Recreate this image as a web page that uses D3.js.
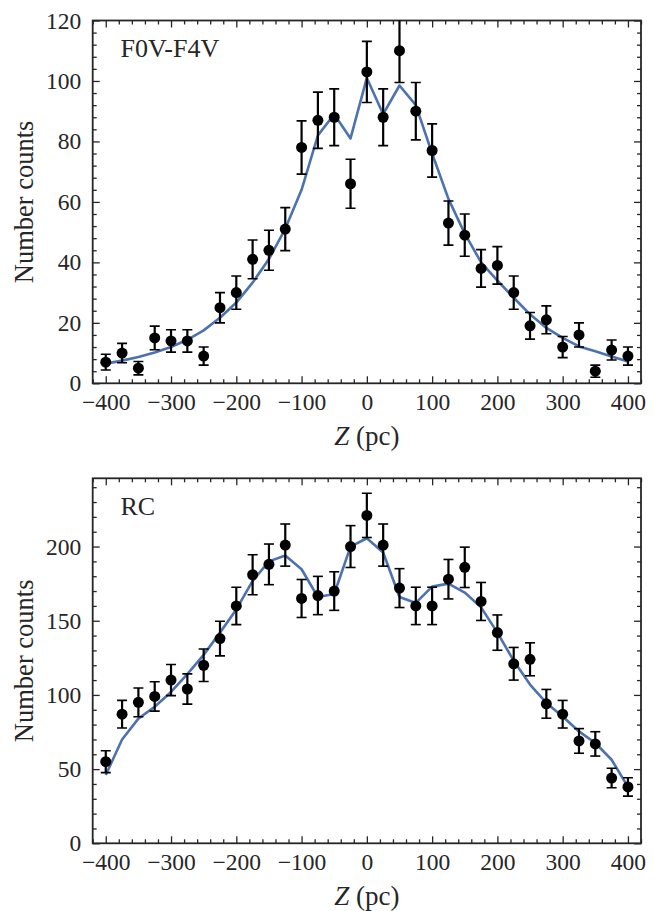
<!DOCTYPE html>
<html>
<head>
<meta charset="utf-8">
<script src="https://cdn.jsdelivr.net/npm/d3@7"></script>
<style>
  html, body { margin: 0; padding: 0; background: #fff; }
</style>
</head>
<body>
<svg id="chart" width="653" height="911"></svg>
<script>
// Vertical position bins (pc)
const zBins = [-400, -375, -350, -325, -300, -275, -250, -225, -200, -175, -150, -125, -100, -75, -50, -25,
               0, 25, 50, 75, 100, 125, 150, 175, 200, 225, 250, 275, 300, 325, 350, 375, 400];

// F0V-F4V dwarfs: counts, Poisson errors, model
const fCounts = [7, 10, 5, 15, 14, 14, 9, 25, 30, 41, 44, 51, 78, 87, 88, 66,
                 103, 88, 110, 90, 77, 53, 49, 38, 39, 30, 19, 21, 12, 16, 4, 11, 9];
const fErrors = [2.6, 3.2, 2.2, 3.9, 3.7, 3.7, 3.0, 5.0, 5.5, 6.4, 6.6, 7.1, 8.8, 9.3, 9.4, 8.1,
                 10.1, 9.4, 10.5, 9.5, 8.8, 7.3, 7.0, 6.2, 6.2, 5.5, 4.4, 4.6, 3.5, 4.0, 2.0, 3.3, 3.0];
const fModel  = [6.5, 7.5, 8.7, 10.2, 12, 14.4, 17.5, 21.7, 26.7, 33.3, 41.1, 51.1, 64, 82, 89, 81,
                 101, 89, 98.5, 92, 76, 61, 49.5, 40, 34, 28.3, 22.8, 18.3, 15, 12.2, 10.6, 8.9, 7.2];

// Red clump giants: counts, Poisson errors, model
const rcCounts = [55, 87, 95, 99, 110, 104, 120, 138, 160, 181, 188, 201, 165, 167, 170, 200,
                  221, 201, 172, 160, 160, 178, 186, 163, 142, 121, 124, 94, 87, 69, 67, 44, 38];
const rcErrors = [7.4, 9.3, 9.7, 9.9, 10.5, 10.2, 11.0, 11.7, 12.6, 13.5, 13.7, 14.2, 12.8, 12.9, 13.0, 14.1,
                  14.9, 14.2, 13.1, 12.6, 12.6, 13.3, 13.6, 12.8, 11.9, 11.0, 11.1, 9.7, 9.3, 8.3, 8.2, 6.6, 6.2];
const rcModel  = [46, 70, 84, 92, 102, 114, 127, 142, 157.6, 176.8, 190, 194, 184.7, 166, 168, 200,
                  205.6, 196, 166, 162, 173, 175, 169, 159, 142, 123, 107, 94.6, 85.5, 75.4, 67.6, 56.3, 38];

// Tick values
const xMajor = [-400, -300, -200, -100, 0, 100, 200, 300, 400];
const xMinor = d3.range(-420, 421, 20).filter(v => v % 100 !== 0);
const fYMajor = [0, 20, 40, 60, 80, 100, 120];
const fYMinor = d3.range(0, 121, 4).filter(v => v % 20 !== 0);
const rcYMajor = [0, 50, 100, 150, 200];
const rcYMinor = d3.range(0, 246, 10).filter(v => v % 50 !== 0);

const serif = '"Liberation Serif", "DejaVu Serif", serif';
const svg = d3.select("#chart");
const ink = "#262626";
const left = 92.7, right = 641;

function panel(opts) {
  const { top, bottom, yMax, counts, errors, model, yMajor, yMinor, label, id } = opts;
  const x = d3.scaleLinear().domain([-420, 420]).range([left, right]);
  const y = d3.scaleLinear().domain([0, yMax]).range([bottom, top]);
  const g = svg.append("g");

  g.append("clipPath").attr("id", id).append("rect")
    .attr("x", left).attr("y", top).attr("width", right - left).attr("height", bottom - top);

  const styleAxis = (sel, labels) => {
    sel.attr("font-family", serif);
    sel.select(".domain").remove();
    sel.selectAll(".tick line").attr("stroke", ink).attr("stroke-width", 1.3);
    sel.selectAll("text")
      .style("font-family", serif)
      .style("font-size", "23.5px")
      .attr("fill", ink);
    if (!labels) sel.selectAll("text").remove();
  };

  // bottom / top axes
  g.append("g").attr("transform", `translate(0,${bottom})`)
    .call(d3.axisBottom(x).tickValues(xMajor).tickSize(-7).tickPadding(10))
    .call(s => styleAxis(s, true));
  g.append("g").attr("transform", `translate(0,${bottom})`)
    .call(d3.axisBottom(x).tickValues(xMinor).tickSize(-4).tickFormat(""))
    .call(s => styleAxis(s, false));
  g.append("g").attr("transform", `translate(0,${top})`)
    .call(d3.axisTop(x).tickValues(xMajor).tickSize(-7).tickFormat(""))
    .call(s => styleAxis(s, false));
  g.append("g").attr("transform", `translate(0,${top})`)
    .call(d3.axisTop(x).tickValues(xMinor).tickSize(-4).tickFormat(""))
    .call(s => styleAxis(s, false));

  // left / right axes
  g.append("g").attr("transform", `translate(${left},0)`)
    .call(d3.axisLeft(y).tickValues(yMajor).tickSize(-7).tickPadding(11.5))
    .call(s => styleAxis(s, true));
  g.append("g").attr("transform", `translate(${left},0)`)
    .call(d3.axisLeft(y).tickValues(yMinor).tickSize(-4).tickFormat(""))
    .call(s => styleAxis(s, false));
  g.append("g").attr("transform", `translate(${right},0)`)
    .call(d3.axisRight(y).tickValues(yMajor).tickSize(-7).tickFormat(""))
    .call(s => styleAxis(s, false));
  g.append("g").attr("transform", `translate(${right},0)`)
    .call(d3.axisRight(y).tickValues(yMinor).tickSize(-4).tickFormat(""))
    .call(s => styleAxis(s, false));

  // frame
  g.append("rect").attr("x", left).attr("y", top)
    .attr("width", right - left).attr("height", bottom - top)
    .attr("fill", "none").attr("stroke", ink).attr("stroke-width", 1.8);

  const plot = g.append("g").attr("clip-path", `url(#${id})`);

  // model curve
  const line = d3.line().x((d, i) => x(zBins[i])).y(d => y(d));
  plot.append("path").datum(model)
    .attr("d", line).attr("fill", "none")
    .attr("stroke", "#4c72b0").attr("stroke-width", 2.6).attr("stroke-linejoin", "round");

  // error bars
  const eb = plot.append("g").attr("stroke", "#000");
  zBins.forEach((z, i) => {
    const cx = x(z), y0 = y(counts[i] - errors[i]), y1 = y(counts[i] + errors[i]);
    eb.append("line").attr("x1", cx).attr("x2", cx).attr("y1", y0).attr("y2", y1).attr("stroke-width", 2.2);
    eb.append("line").attr("x1", cx - 5).attr("x2", cx + 5).attr("y1", y0).attr("y2", y0).attr("stroke-width", 1.6);
    eb.append("line").attr("x1", cx - 5).attr("x2", cx + 5).attr("y1", y1).attr("y2", y1).attr("stroke-width", 1.6);
  });

  // data points
  plot.append("g").selectAll("circle").data(counts).join("circle")
    .attr("cx", (d, i) => x(zBins[i])).attr("cy", d => y(d))
    .attr("r", 5.5).attr("fill", "#000");

  // panel label
  g.append("text").attr("x", 120.5).attr("y", top + 36.5)
    .style("font-family", serif).style("font-size", "26px").attr("fill", ink).text(label);

  // axis titles
  g.append("text")
    .attr("transform", `translate(33,${(top + bottom) / 2}) rotate(-90)`)
    .attr("text-anchor", "middle")
    .style("font-family", serif).style("font-size", "26.5px").attr("fill", ink)
    .text("Number counts");

  const xl = g.append("text").attr("x", x(0)).attr("y", bottom + 61.5)
    .attr("text-anchor", "middle")
    .style("font-family", serif).style("font-size", "27px").attr("fill", ink);
  xl.append("tspan").style("font-style", "italic").text("Z");
  xl.append("tspan").text(" (pc)");
}

panel({ id: "clipF", top: 20.5, bottom: 383.3, yMax: 120, counts: fCounts, errors: fErrors,
        model: fModel, yMajor: fYMajor, yMinor: fYMinor, label: "F0V-F4V" });
panel({ id: "clipRC", top: 478.3, bottom: 843.3, yMax: 246, counts: rcCounts, errors: rcErrors,
        model: rcModel, yMajor: rcYMajor, yMinor: rcYMinor, label: "RC" });
</script>
</body>
</html>
